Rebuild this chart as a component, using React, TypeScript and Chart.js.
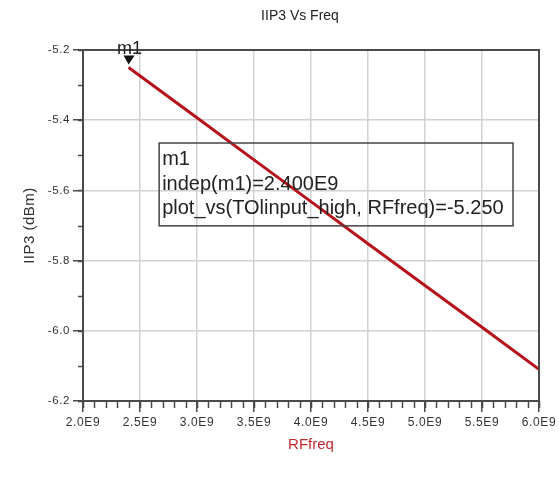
import React, { useEffect, useRef } from "react";
import { Chart, registerables } from "chart.js";

Chart.register(...registerables);

const chartTitle = "IIP3 Vs Freq";
const xTitle = "RFfreq";
const yTitle = "IIP3 (dBm)";

const freqHz = [2.4e9, 3.0e9, 3.5e9, 4.0e9, 4.5e9, 5.0e9, 5.5e9, 6.0e9];
const iip3dBm = [-5.25, -5.393, -5.513, -5.632, -5.752, -5.871, -5.99, -6.11];

const xMin = 2.0e9;
const xMax = 6.0e9;
const xStep = 0.5e9;
const xMinorStep = 0.1e9;
const yMin = -6.2;
const yMax = -5.2;
const yStep = 0.2;
const yMinorStep = 0.1;

const markerName = "m1";
const markerIndex = 0;
const markerLines = [
  "m1",
  "indep(m1)=2.400E9",
  "plot_vs(TOlinput_high, RFfreq)=-5.250",
];

const FONT = "'Liberation Sans', Arial, sans-serif";
const AXIS = "#4a4a4a";
const GRID = "#d2d2d2";
const LINE = "#b5121b";

const decor = {
  id: "decor",
  beforeDraw(chart: any) {
    chart.ctx.letterSpacing = "0.6px";
  },
  afterDraw(chart: any) {
    const ctx = chart.ctx;
    ctx.letterSpacing = "0px";
    const { left, right, top, bottom } = chart.chartArea;
    const xs = chart.scales.x;
    const ys = chart.scales.y;
    ctx.save();

    // top and right border
    ctx.strokeStyle = AXIS;
    ctx.lineWidth = 2;
    ctx.beginPath();
    ctx.moveTo(left, top);
    ctx.lineTo(right, top);
    ctx.lineTo(right, bottom);
    ctx.stroke();

    // minor ticks
    ctx.lineWidth = 1.5;
    ctx.beginPath();
    const nx = Math.round((xMax - xMin) / xMinorStep);
    for (let i = 0; i <= nx; i++) {
      const v = xMin + i * xMinorStep;
      const px = Math.round(xs.getPixelForValue(v)) + 0.5;
      ctx.moveTo(px, bottom);
      ctx.lineTo(px, bottom + 7);
    }
    const ny = Math.round((yMax - yMin) / yMinorStep);
    for (let i = 0; i <= ny; i++) {
      const v = yMin + i * yMinorStep;
      const py = Math.round(ys.getPixelForValue(v)) + 0.5;
      ctx.moveTo(left, py);
      ctx.lineTo(left - 5, py);
    }
    ctx.stroke();

    // titles
    ctx.fillStyle = "#222";
    ctx.font = `14px ${FONT}`;
    ctx.textAlign = "center";
    ctx.textBaseline = "middle";
    ctx.fillText(chartTitle, 300, 16);

    ctx.save();
    ctx.translate(30, (top + bottom) / 2);
    ctx.rotate(-Math.PI / 2);
    ctx.fillStyle = "#333";
    ctx.font = `15px ${FONT}`;
    ctx.letterSpacing = "0.5px";
    ctx.fillText(yTitle, 0, 0);
    ctx.restore();

    ctx.fillStyle = "#c0282d";
    ctx.font = `15px ${FONT}`;
    ctx.fillText(xTitle, (left + right) / 2, 445);

    // marker
    const mx = xs.getPixelForValue(freqHz[markerIndex]);
    const my = ys.getPixelForValue(iip3dBm[markerIndex]);
    ctx.fillStyle = "#111";
    ctx.beginPath();
    ctx.moveTo(mx - 5, my - 12);
    ctx.lineTo(mx + 6, my - 12);
    ctx.lineTo(mx, my - 3);
    ctx.closePath();
    ctx.fill();
    ctx.font = `18px ${FONT}`;
    ctx.fillStyle = "#222";
    ctx.textBaseline = "alphabetic";
    ctx.fillText(markerName, mx + 1, my - 14);

    // readout box
    const w = right - left;
    const h = bottom - top;
    const bx = left + 0.167 * w;
    const by = top + 0.265 * h;
    const bw = 0.776 * w;
    const bh = 0.236 * h;
    ctx.strokeStyle = "#444";
    ctx.lineWidth = 1.5;
    ctx.strokeRect(bx, by, bw, bh);
    ctx.fillStyle = "#222";
    ctx.textAlign = "left";
    ctx.font = `20px ${FONT}`;
    markerLines.forEach((s, i) => {
      ctx.fillText(s, bx + 3, by + 22 + i * 24.5);
    });

    ctx.restore();
  },
};

export default function App() {
  const ref = useRef<HTMLCanvasElement>(null);
  useEffect(() => {
    document.body.style.margin = "0";
    const c = ref.current;
    if (!c) return;
    const chart = new Chart(c, {
      type: "line",
      data: {
        datasets: [
          {
            data: freqHz.map((f, i) => ({ x: f, y: iip3dBm[i] })),
            borderColor: LINE,
            borderWidth: 3,
            pointRadius: 0,
            fill: false,
            tension: 0,
          },
        ],
      },
      options: {
        responsive: false,
        animation: false,
        layout: { padding: { top: 50, right: 20, left: 0, bottom: 0 } },
        plugins: {
          legend: { display: false },
          tooltip: { enabled: false },
          title: { display: false },
        },
        scales: {
          x: {
            type: "linear",
            min: xMin,
            max: xMax,
            afterFit: (s: any) => {
              s.height = 78;
            },
            ticks: {
              stepSize: xStep,
              color: "#333",
              font: { family: FONT, size: 12 },
              padding: 3,
              maxRotation: 0,
              autoSkip: false,
              callback: (v: any) => (Number(v) / 1e9).toFixed(1) + "E9",
            },
            grid: {
              color: GRID,
              lineWidth: 1.5,
              tickColor: AXIS,
              tickLength: 11,
              tickWidth: 1.5,
            },
            border: { color: AXIS, width: 2 },
          },
          y: {
            type: "linear",
            min: yMin,
            max: yMax,
            afterFit: (s: any) => {
              s.width = 83;
            },
            ticks: {
              stepSize: yStep,
              color: "#333",
              font: { family: FONT, size: 11.5 },
              padding: 3,
              callback: (v: any) => Number(v).toFixed(1),
            },
            grid: {
              color: GRID,
              lineWidth: 1.5,
              tickColor: AXIS,
              tickLength: 10,
              tickWidth: 1.5,
            },
            border: { color: AXIS, width: 2 },
          },
        },
      },
      plugins: [decor],
    });
    return () => chart.destroy();
  }, []);
  return (
    <div style={{ position: "absolute", left: 0, top: 0, width: 559, height: 479, background: "#fff" }}>
      <canvas ref={ref} width={559} height={479} />
    </div>
  );
}
